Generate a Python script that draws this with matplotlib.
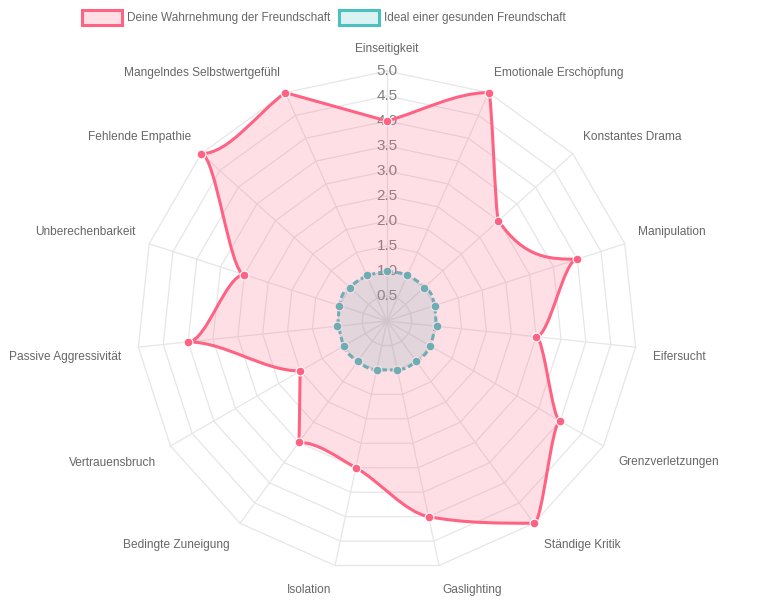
import numpy as np
import matplotlib
matplotlib.use("Agg")
import matplotlib.pyplot as plt
from matplotlib.path import Path
from matplotlib.patches import PathPatch, Rectangle

plt.rcParams['font.family'] = ['Liberation Sans', 'DejaVu Sans']
plt.rcParams['lines.scale_dashes'] = False

categories = [
    "Einseitigkeit", "Emotionale Erschöpfung", "Konstantes Drama", "Manipulation",
    "Eifersucht", "Grenzverletzungen", "Ständige Kritik", "Gaslighting", "Isolation",
    "Bedingte Zuneigung", "Vertrauensbruch", "Passive Aggressivität",
    "Unberechenbarkeit", "Fehlende Empathie", "Mangelndes Selbstwertgefühl",
]
perceived = [4, 5, 3, 4, 3, 4, 5, 4, 3, 3, 2, 4, 3, 5, 5]
ideal = [1] * 15
ticks = [0.5, 1.0, 1.5, 2.0, 2.5, 3.0, 3.5, 4.0, 4.5, 5.0]
series_names = ["Deine Wahrnehmung der Freundschaft", "Ideal einer gesunden Freundschaft"]

pink = (255/255, 99/255, 132/255)
teal = (75/255, 192/255, 192/255)
grid_c = "#e6e6e6"
text_c = "#666666"

W, H = 757, 600
cx, cy, ppu = 387, 321, 50.0   # centre in pixels, pixels per value unit
rmax = 5.0
n = len(categories)
angles = np.arange(n) * 2 * np.pi / n  # clockwise from top


def xy(vals):
    v = np.asarray(vals, dtype=float)
    return v * np.sin(angles), v * np.cos(angles)


def monotone_path(xs, ys):
    # monotone cubic interpolation along x, like Chart.js; closing segment is straight
    m = len(xs)
    dk = np.zeros(m)
    mk = np.zeros(m)
    for i in range(m - 1):
        dx = xs[i + 1] - xs[i]
        dk[i] = (ys[i + 1] - ys[i]) / dx if dx != 0 else 0.0
    for i in range(m):
        if i == 0:
            mk[i] = dk[i]
        elif i == m - 1:
            mk[i] = dk[i - 1]
        elif np.sign(dk[i - 1]) != np.sign(dk[i]):
            mk[i] = 0.0
        else:
            mk[i] = (dk[i - 1] + dk[i]) / 2
    for i in range(m - 1):
        if abs(dk[i]) < 1e-9:
            mk[i] = mk[i + 1] = 0.0
            continue
        a = mk[i] / dk[i]
        b = mk[i + 1] / dk[i]
        sq = a * a + b * b
        if sq <= 9:
            continue
        tau = 3 / np.sqrt(sq)
        mk[i] = a * tau * dk[i]
        mk[i + 1] = b * tau * dk[i]
    verts = [(xs[0], ys[0])]
    codes = [Path.MOVETO]
    for i in range(m - 1):
        d = (xs[i + 1] - xs[i]) / 3
        c1 = (xs[i] + d, ys[i] + d * mk[i])
        c2 = (xs[i + 1] - d, ys[i + 1] - d * mk[i + 1])
        verts += [c1, c2, (xs[i + 1], ys[i + 1])]
        codes += [Path.CURVE4] * 3
    verts.append((xs[0], ys[0]))
    codes.append(Path.CLOSEPOLY)
    return Path(verts, codes)


fig = plt.figure(figsize=(W / 100, H / 100), dpi=100)
ax = fig.add_axes([0, 0, 1, 1])
ax.set_xlim(-cx / ppu, (W - cx) / ppu)
ax.set_ylim(-(H - cy) / ppu, cy / ppu)
ax.axis("off")

# grid rings and spokes
for r in ticks:
    gx, gy = xy([r] * n)
    ax.plot(np.append(gx, gx[0]), np.append(gy, gy[0]), color=grid_c, lw=0.9, zorder=1)
ox, oy = xy([rmax] * n)
for x1, y1 in zip(ox, oy):
    ax.plot([0, x1], [0, y1], color=grid_c, lw=0.9, zorder=1)

# radial tick labels
for r in ticks:
    ax.text(0, r, f"{r:.1f}", ha="center", va="center", fontsize=11, color="#808080", zorder=2)

# point labels
for i, lab in enumerate(categories):
    deg = np.degrees(angles[i])
    upper = deg < 90 or deg > 270
    off = 15 if i == 0 else (14 if upper else 17)
    rl = rmax + off / ppu
    x = rl * np.sin(angles[i])
    y = rl * np.cos(angles[i])
    ha = "center" if deg == 0 else ("left" if deg < 180 else "right")
    y += 7.2 / ppu if upper else -8.0 / ppu
    ax.text(x, y, lab, ha=ha, va="center", fontsize=8.6, color=text_c)

# ideal dataset (drawn underneath)
ix, iy = xy(ideal)
ip = monotone_path(ix, iy)
ax.add_patch(PathPatch(ip, facecolor=teal + (0.2,), edgecolor="none", zorder=3))
ax.add_patch(PathPatch(ip, facecolor="none", edgecolor=teal, lw=2.2,
                       linestyle=(0, (4.5, 2.2)), zorder=3))
ax.scatter(ix, iy, s=40, color=teal, edgecolors="white", linewidths=0.8, zorder=4)

# perceived dataset
px, py = xy(perceived)
pp = monotone_path(px, py)
ax.add_patch(PathPatch(pp, facecolor=pink + (0.2,), edgecolor="none", zorder=5))
ax.add_patch(PathPatch(pp, facecolor="none", edgecolor=pink, lw=2.2, zorder=6))
ax.scatter(px, py, s=40, color=pink, edgecolors="white", linewidths=0.8, zorder=7)

# legend (top, centred)
def fig_xy(px_, py_):
    return px_ / W, 1 - py_ / H

legend_items = [(series_names[0], pink, 82, 127), (series_names[1], teal, 339, 384)]
for name, col, bx, tx in legend_items:
    x0, y0 = fig_xy(bx, 25)
    fig.add_artist(Rectangle((x0, y0), 40 / W, 15 / H, transform=fig.transFigure,
                             facecolor=col + (0.2,), edgecolor=col, lw=2.2))
    fx, fy = fig_xy(tx, 18.5)
    fig.text(fx, fy, name, ha="left", va="center", fontsize=8.5, color=text_c)

fig.savefig("out.png", dpi=100)
